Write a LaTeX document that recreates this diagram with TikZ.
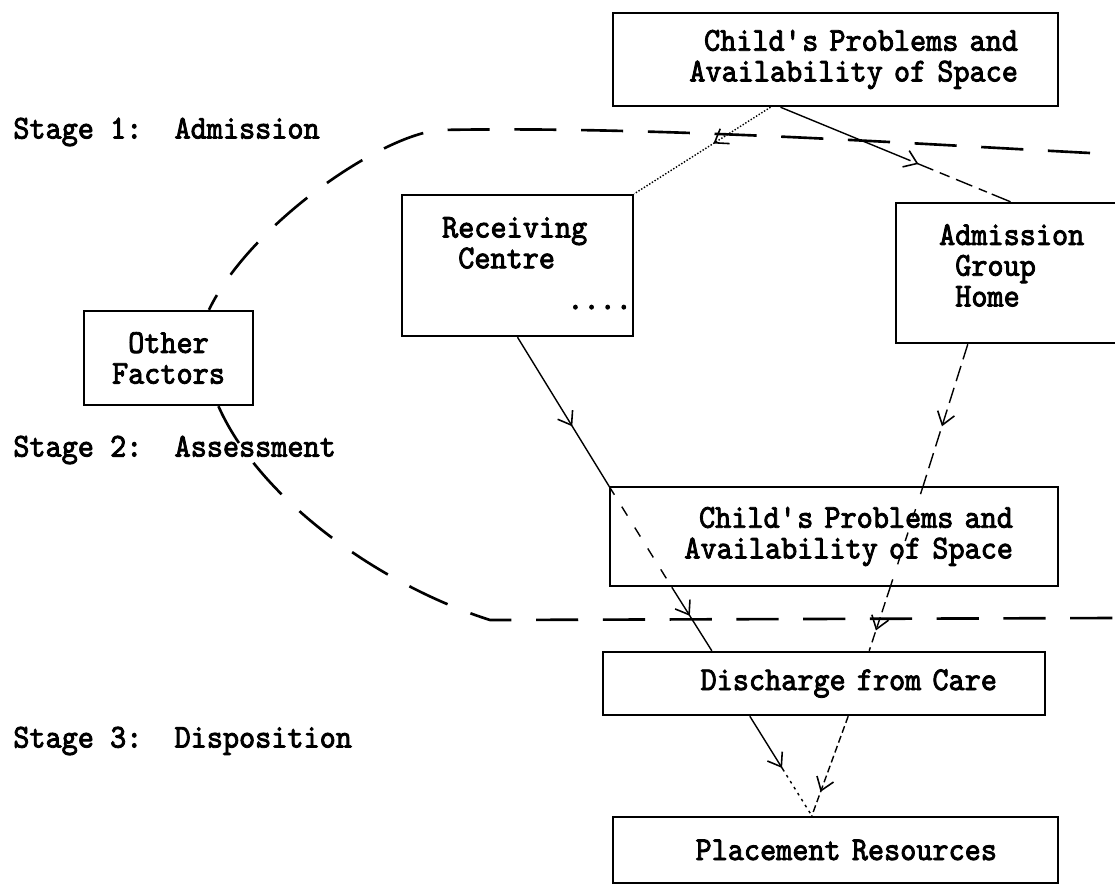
\documentclass[tikz,border=0pt]{standalone}
\usepackage{fontspec}
\newfontfamily\typefont{lmmono10-regular.otf}[FakeStretch=0.92,FakeBold=2.5]
\newcommand{\typed}{\typefont\fontsize{19pt}{17.5pt}\selectfont}
\usetikzlibrary{positioning,calc,arrows.meta,decorations.markings}
\tikzset{
  box/.style={draw,line width=1.4pt,inner ysep=0pt,align=right,font=\typed},
  lbl/.style={inner sep=0pt,align=left,font=\typed},
  link/.style={line width=0.8pt},
  midtip/.style={postaction={decorate},decoration={markings,
    mark=at position #1 with {\arrow{Straight Barb[length=7pt,width=10pt,line width=0.9pt]}}}},
  stagebound/.style={line width=1.5pt,dash pattern=on 24pt off 14pt},
}
\begin{document}
\begin{tikzpicture}[x=0.02cm,y=-0.02cm]
\useasboundingbox (0,0) rectangle (1115,886);
% edit here for the boxes
\node[box,minimum width=8.9cm,minimum height=1.86cm,text width=7.3cm,inner xsep=0.8cm] (cp1) at (835.5,59.5) {Child\textquotesingle s Problems and\\Availability of Space};
\node[box,minimum width=4.62cm,minimum height=2.82cm] (rc) at (517.5,265.5) {};
\node[box,minimum width=4.58cm,minimum height=2.8cm] (ag) at (1010.5,273) {};
\node[box,align=center,minimum width=3.38cm,minimum height=1.88cm] (of) at (168.5,358) {Other\\Factors};
\node[box,minimum width=8.96cm,minimum height=1.98cm,text width=7.16cm,inner xsep=0.9cm] (cp2) at (834,536.5) {Child\textquotesingle s Problems and\\Availability of Space};
\node[box,minimum width=8.84cm,minimum height=1.26cm,text width=6.92cm,inner xsep=0.96cm] (dc) at (824,683.5) {Discharge from Care};
\node[box,minimum width=8.9cm,minimum height=1.32cm,text width=6.46cm,inner xsep=1.22cm] (pr) at (835.5,850) {Placement Resources};
% texts in the two open boxes
\node[lbl,below right=0.46cm and 0.82cm of rc.north west] (rc-t) {Receiving\\\hphantom{R}Centre};
\node[lbl,anchor=base east] (rc-d) at ($(rc.south east)+(-2,-28)$) {....};
\node[lbl,below right=0.44cm and 0.88cm of ag.north west] (ag-t) {Admission\\\hphantom{A}Group\\\hphantom{A}Home};
\foreach \num/\word/\ypos in {1/Admission/132, 2/Assessment/450, 3/Disposition/741} % edit here for the stages
\node[lbl,anchor=west] (st\num) at (13,\ypos) {Stage \num:\ \ \word};
% stage boundary
\coordinate (bndtop) at (1090,153);
\coordinate (bndbot) at (1115,618);
\draw[stagebound] (bndtop) .. controls (900,143) and (650,126) .. (440,130) .. controls (380,135) and (250,225) .. (of.50);
\draw[stagebound] (of.-44) .. controls (260,500) and (380,585) .. (490,620) -- (bndbot);
% from the top box
\draw[link,midtip=0.6,dash pattern=on 80pt off 4pt on 10pt off 4pt on 6pt off 4pt on 10pt off 4pt on 5pt off 3pt] ($(cp1.south)+(-55,0)$) -- (ag.north);
\draw[link,midtip=0.42,densely dotted] ($(cp1.south)+(-65,0)$) -- (rc.north east);
% left chain
\draw[link,midtip=0.6] (rc.south) -- (cp2.north west);
\draw[link,dash pattern=on 6pt off 8pt] (cp2.north west) -- ($(cp2.south west)+(63,0)$);
\draw[link,midtip=0.45] ($(cp2.south west)+(63,0)$) -- ($(dc.north west)+(110,0)$);
\draw[link,midtip=0.52,dash pattern=on 37pt off 2.5pt on 1.5pt off 2.5pt on 1.5pt off 2.5pt on 1.5pt off 2.5pt on 1.5pt off 2.5pt on 1.5pt off 2.5pt on 1.5pt off 2.5pt on 1.5pt off 2.5pt on 1.5pt off 2.5pt] ($(dc.south west)+(148,0)$) -- ($(pr.north west)+(200,0)$);
% right chain
\draw[link,midtip=0.58,dash pattern=on 9pt off 4pt] ($(ag.south west)+(73,0)$) -- ($(cp2.north east)+(-136,0)$);
\draw[link,dash pattern=on 5pt off 9pt] ($(cp2.north east)+(-136,0)$) -- ($(cp2.south east)+(-169,0)$);
\draw[link,midtip=0.68,dash pattern=on 6pt off 3pt] ($(cp2.south east)+(-169,0)$) -- ($(dc.north east)+(-177,0)$);
\draw[link,midtip=0.76,dash pattern=on 4pt off 2pt] ($(dc.south east)+(-198,0)$) -- ($(pr.north west)+(200,0)$);
\end{tikzpicture}
\end{document}
